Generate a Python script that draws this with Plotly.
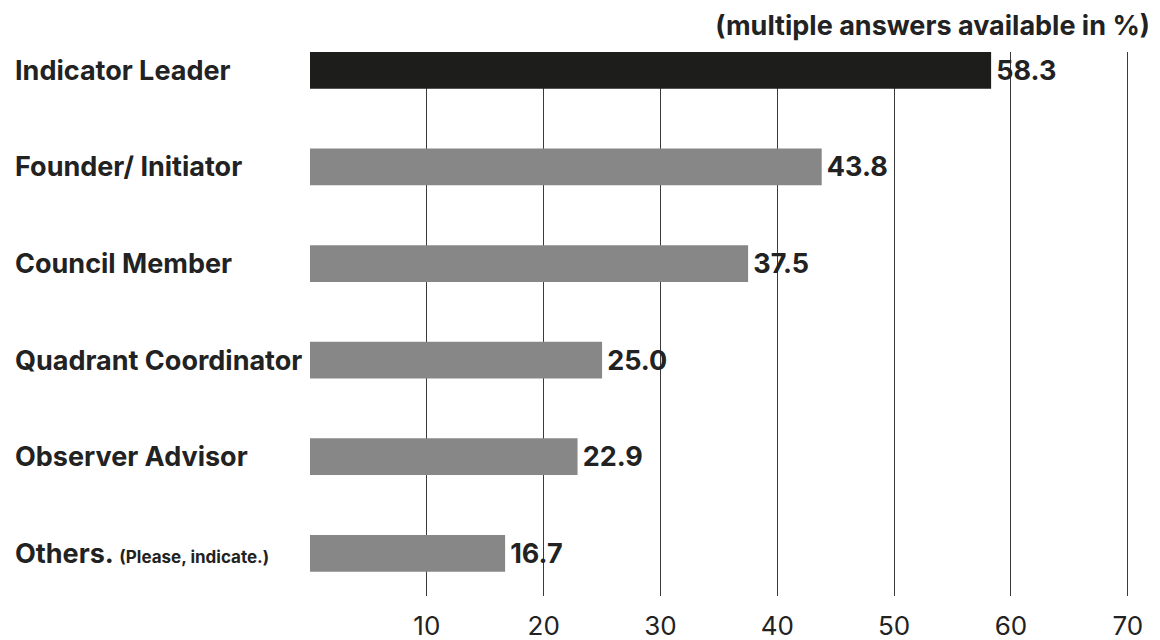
import plotly.graph_objects as go

# data
roles = [
    "Indicator Leader",
    "Founder/ Initiator",
    "Council Member",
    "Quadrant Coordinator",
    "Observer Advisor",
    "Others. <span style='font-size:17px'>(Please, indicate.)</span>",
]
shares = [58.3, 43.8, 37.5, 25.0, 22.9, 16.7]
bar_colors = ["#1d1d1b", "#878787", "#878787", "#878787", "#878787", "#878787"]
tick_values = [10, 20, 30, 40, 50, 60, 70]

font = "Inter, 'Noto Sans', Arial, sans-serif"
ink = "#222222"

fig = go.Figure()

fig.add_trace(
    go.Bar(
        x=shares,
        y=list(range(len(roles))),
        orientation="h",
        width=0.38,
        marker=dict(color=bar_colors, line_width=0),
        texttemplate="\u200a%{x:.1f}",
        textposition="outside",
        cliponaxis=False,
        textfont=dict(family=font, size=27, color=ink, weight=700),
        hoverinfo="skip",
    )
)

# left-aligned category labels
for i, r in enumerate(roles):
    fig.add_annotation(
        x=-0.3536,
        xref="paper",
        y=i,
        yref="y",
        text=r,
        showarrow=False,
        xanchor="left",
        yanchor="middle",
        font=dict(family=font, size=27, color=ink, weight=700),
    )

# page body adds an 8px offset, so the figure is 8px smaller
fig.update_layout(
    width=1152,
    height=632,
    margin=dict(l=302, r=10, t=44, b=44, autoexpand=False),
    paper_bgcolor="white",
    plot_bgcolor="white",
    showlegend=False,
    title=dict(
        text="(multiple answers available in %)",
        x=1,
        xref="paper",
        xanchor="right",
        y=1 - 18 / 632,
        yanchor="middle",
        font=dict(family=font, size=27, color=ink, weight=700),
    ),
    xaxis=dict(
        range=[0, 71.9],
        tickvals=tick_values,
        showgrid=True,
        gridcolor="#3a3a3a",
        gridwidth=1,
        zeroline=False,
        showline=False,
        ticks="",
        ticklabelstandoff=12,
        tickfont=dict(family=font, size=26, color=ink),
    ),
    yaxis=dict(
        range=[5.442, -0.19],
        showticklabels=False,
        showgrid=False,
        zeroline=False,
        showline=False,
    ),
)

fig.write_html("out.html")
